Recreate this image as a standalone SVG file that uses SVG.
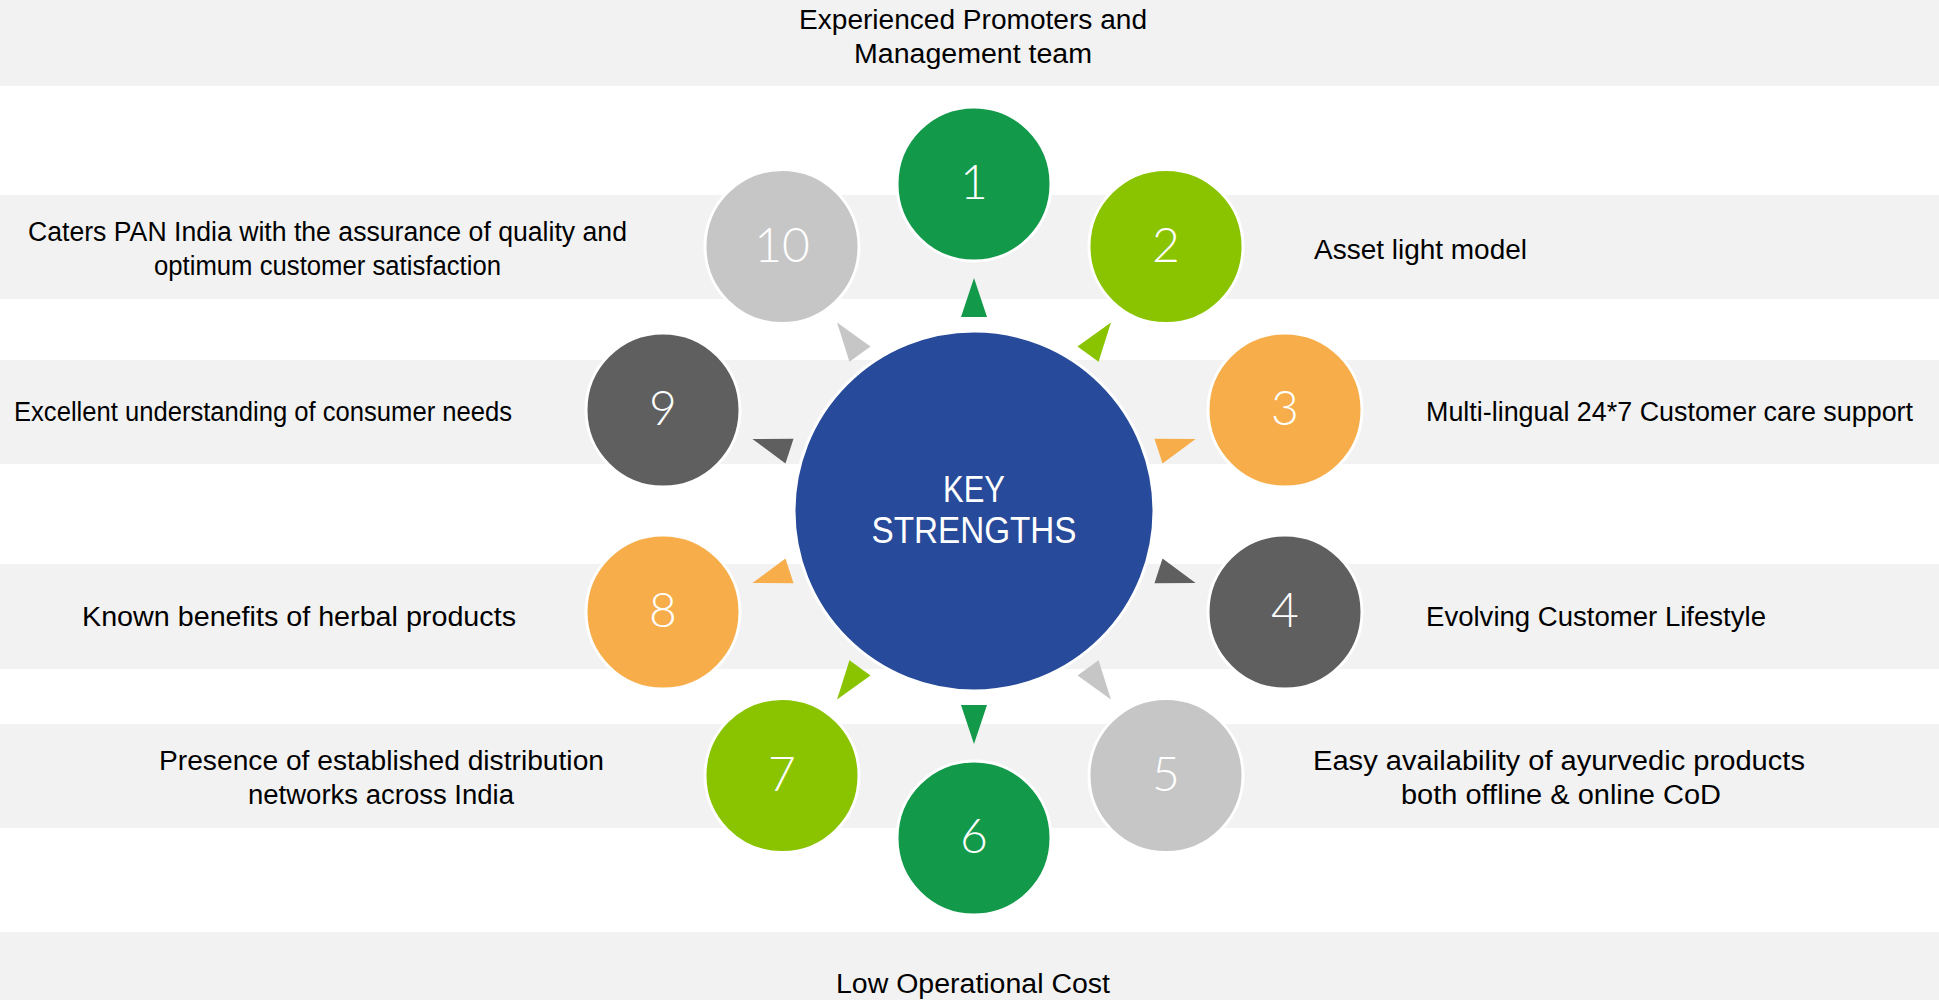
<svg xmlns="http://www.w3.org/2000/svg" width="1939" height="1000" viewBox="0 0 1939 1000">
<style>
.band{fill:#F2F2F2}
.lbl{font-family:"Liberation Sans",Arial,sans-serif;font-size:27px;fill:#000}
.num{font-family:"Lato","Liberation Sans",sans-serif;font-weight:300;font-size:48px;fill:#fff;text-anchor:middle}
.ring{stroke:#fff;stroke-width:3}
.c-green{fill:#12994A}.c-lime{fill:#8AC300}.c-orange{fill:#F7AD49}.c-dark{fill:#5F5F5F}.c-light{fill:#C6C6C6}
.hub{fill:#274B9A;stroke:#fff;stroke-width:3}
.hubtxt{font-family:"Liberation Sans",Arial,sans-serif;font-size:36px;fill:#fff;text-anchor:middle}
</style>
<defs>
<polygon id="tri" points="0,-233 -13,-194 13,-194"/>
</defs>
<rect width="1939" height="1000" fill="#fff"/>
<g id="bands">
<rect class="band" x="0" y="0" width="1939" height="86"/>
<rect class="band" x="0" y="195" width="1939" height="104"/>
<rect class="band" x="0" y="360" width="1939" height="104"/>
<rect class="band" x="0" y="564" width="1939" height="105"/>
<rect class="band" x="0" y="724" width="1939" height="104"/>
<rect class="band" x="0" y="932" width="1939" height="68"/>
</g>
<g id="labels">
<text class="lbl" x="799" y="29" textLength="348" lengthAdjust="spacingAndGlyphs">Experienced Promoters and</text>
<text class="lbl" x="854" y="63" textLength="238" lengthAdjust="spacingAndGlyphs">Management team</text>
<text class="lbl" x="1314" y="259" textLength="213" lengthAdjust="spacingAndGlyphs">Asset light model</text>
<text class="lbl" x="1426" y="421" textLength="487" lengthAdjust="spacingAndGlyphs">Multi-lingual 24*7 Customer care support</text>
<text class="lbl" x="1426" y="626" textLength="340" lengthAdjust="spacingAndGlyphs">Evolving Customer Lifestyle</text>
<text class="lbl" x="1313" y="770" textLength="492" lengthAdjust="spacingAndGlyphs">Easy availability of ayurvedic products</text>
<text class="lbl" x="1401" y="804" textLength="320" lengthAdjust="spacingAndGlyphs">both offline &amp; online CoD</text>
<text class="lbl" x="836" y="993" textLength="274" lengthAdjust="spacingAndGlyphs">Low Operational Cost</text>
<text class="lbl" x="159" y="770" textLength="445" lengthAdjust="spacingAndGlyphs">Presence of established distribution</text>
<text class="lbl" x="248" y="804" textLength="266" lengthAdjust="spacingAndGlyphs">networks across India</text>
<text class="lbl" x="82" y="626" textLength="434" lengthAdjust="spacingAndGlyphs">Known benefits of herbal products</text>
<text class="lbl" x="14" y="421" textLength="498" lengthAdjust="spacingAndGlyphs">Excellent understanding of consumer needs</text>
<text class="lbl" x="28" y="241" textLength="599" lengthAdjust="spacingAndGlyphs">Caters PAN India with the assurance of quality and</text>
<text class="lbl" x="154" y="275" textLength="347" lengthAdjust="spacingAndGlyphs">optimum customer satisfaction</text>
</g>
<g id="connectors" transform="translate(974,511)">
<use href="#tri" class="c-green"/>
<use href="#tri" class="c-lime" transform="rotate(36)"/>
<use href="#tri" class="c-orange" transform="rotate(72)"/>
<use href="#tri" class="c-dark" transform="rotate(108)"/>
<use href="#tri" class="c-light" transform="rotate(144)"/>
<use href="#tri" class="c-green" transform="rotate(180)"/>
<use href="#tri" class="c-lime" transform="rotate(216)"/>
<use href="#tri" class="c-orange" transform="rotate(252)"/>
<use href="#tri" class="c-dark" transform="rotate(288)"/>
<use href="#tri" class="c-light" transform="rotate(324)"/>
</g>
<g id="hub">
<circle class="hub" cx="974" cy="511" r="180"/>
<text class="hubtxt" x="974" y="502" textLength="62" lengthAdjust="spacingAndGlyphs">KEY</text>
<text class="hubtxt" x="974" y="543" textLength="205" lengthAdjust="spacingAndGlyphs">STRENGTHS</text>
</g>
<g id="node1"><circle class="ring c-green" cx="974" cy="184" r="77"/><text class="num" x="974" y="199">1</text></g>
<g id="node2"><circle class="ring c-lime" cx="1166" cy="246.5" r="77"/><text class="num" x="1166" y="261.5">2</text></g>
<g id="node3"><circle class="ring c-orange" cx="1285" cy="410" r="77"/><text class="num" x="1285" y="425">3</text></g>
<g id="node4"><circle class="ring c-dark" cx="1285" cy="612" r="77"/><text class="num" x="1285" y="627">4</text></g>
<g id="node5"><circle class="ring c-light" cx="1166" cy="775.5" r="77"/><text class="num" x="1166" y="790.5">5</text></g>
<g id="node6"><circle class="ring c-green" cx="974" cy="838" r="77"/><text class="num" x="974" y="853">6</text></g>
<g id="node7"><circle class="ring c-lime" cx="782" cy="775.5" r="77"/><text class="num" x="782" y="790.5">7</text></g>
<g id="node8"><circle class="ring c-orange" cx="663" cy="612" r="77"/><text class="num" x="663" y="627">8</text></g>
<g id="node9"><circle class="ring c-dark" cx="663" cy="410" r="77"/><text class="num" x="663" y="425">9</text></g>
<g id="node10"><circle class="ring c-light" cx="782" cy="246.5" r="77"/><text class="num" x="782" y="261.5">10</text></g>
</svg>
